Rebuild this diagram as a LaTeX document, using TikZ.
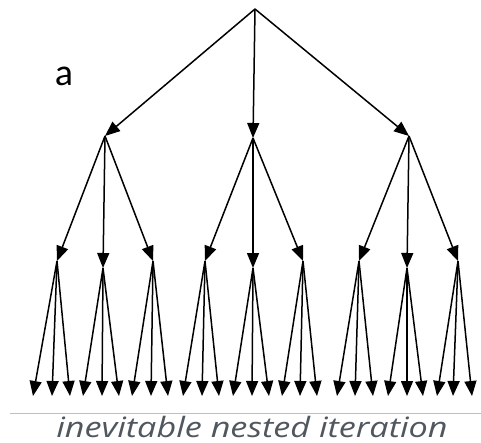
\documentclass[tikz,border=0pt]{standalone}
\usepackage{fontspec}
\usetikzlibrary{arrows.meta}
\newfontfamily\capfont{Open Sans}
\newfontfamily\labfont{Carlito}
\definecolor{capgray}{HTML}{50575E}
\definecolor{rulegray}{HTML}{BFBFBF}
\begin{document}
\begin{tikzpicture}[x=1pt,y=-1pt,
  edge/.style={line width=1.5pt,-{Triangle[length=15pt,width=12pt]}},
  pt/.style={inner sep=0pt,minimum size=0pt}]
\useasboundingbox (0,0) rectangle (481,442);
\coordinate (r) at (255,9);
\coordinate (l1) at (105,136);
\coordinate (l2) at (253,138);
\coordinate (l3) at (409,136);
\foreach \n in {1,2,3} \draw[edge] (r) -- (l\n);
% level 2
\coordinate (a1) at (57,261);
\coordinate (a2) at (103,268);
\coordinate (a3) at (153,261);
\coordinate (b1) at (205,261);
\coordinate (b2) at (253,268);
\coordinate (b3) at (303,261);
\coordinate (c1) at (359,261);
\coordinate (c2) at (407,268);
\coordinate (c3) at (458,261);
\foreach \n in {1,2,3} {
  \draw[edge] (l1) -- (a\n);
  \draw[edge] (l2) -- (b\n);
  \draw[edge] (l3) -- (c\n);
}
% leaves
\foreach \p/\xa/\xb/\xc in {a1/33/52/70, a2/83/102/119, a3/132/151/168,
  b1/183/202/219, b2/233/252/269, b3/282/300/317,
  c1/337/355/373, c2/388/407/423, c3/437/453/472} {
  \coordinate (\p-1) at (\xa,396);
  \coordinate (\p-2) at (\xb,396);
  \coordinate (\p-3) at (\xc,396);
  \foreach \k in {1,2,3} \draw[edge] (\p) -- (\p-\k);
}
\node[pt,anchor=base,font=\labfont\fontsize{38}{40}\selectfont] (lab) at (64,85) {a};
\coordinate (s1) at (10,413);
\coordinate (s2) at (481,413);
\draw[rulegray,line width=1pt] (s1) -- (s2);
\node[pt,anchor=base,text=capgray,font=\capfont\itshape\fontsize{28}{30}\selectfont] (cap) at (252,437.5) {\scalebox{1.22}[1]{inevitable nested iteration}};
\end{tikzpicture}
\end{document}
